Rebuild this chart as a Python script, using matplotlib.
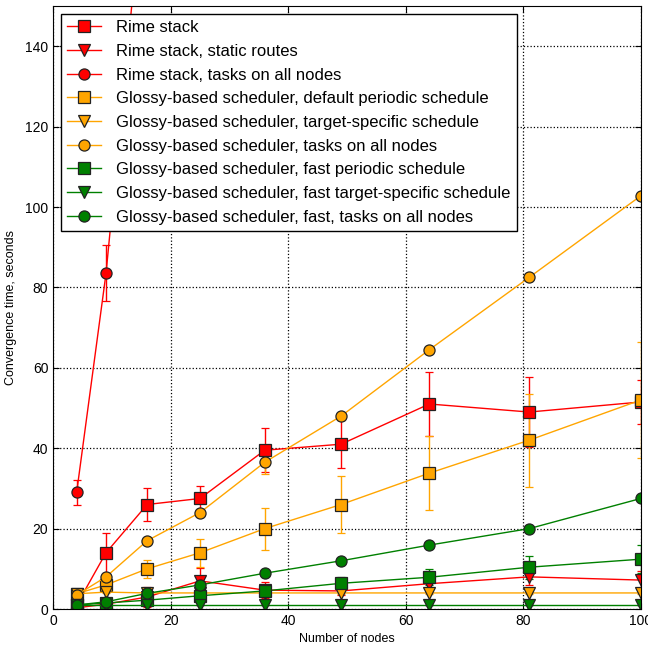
import matplotlib
matplotlib.use('Agg')
import matplotlib.pyplot as plt
import numpy as np

plt.rcParams['font.family'] = ['Liberation Sans', 'DejaVu Sans']

nodes = [4, 9, 16, 25, 36, 49, 64, 81, 100]

rime = [1.0, 14.0, 26.0, 27.5, 39.5, 41.0, 51.0, 49.0, 51.5]
rime_err = [0.5, 5.0, 4.0, 3.0, 5.5, 6.0, 8.0, 8.7, 5.5]
rime_static = [0.3, 1.2, 3.0, 7.0, 4.7, 4.5, 6.3, 8.0, 7.2]
rime_static_err = [0.2, 0.5, 2.5, 3.3, 2.0, 1.0, 1.5, 2.0, 2.2]
rime_all = [29.0, 83.5, 190.0, 300.0, 430.0, 600.0, 800.0, 1000.0, 1250.0]
rime_all_err = [3.0, 7.0, 10.0, 10.0, 10.0, 10.0, 10.0, 10.0, 10.0]

glossy = [3.8, 6.0, 10.0, 14.0, 20.0, 26.0, 33.8, 42.0, 52.0]
glossy_err = [0.5, 1.5, 2.2, 3.5, 5.2, 7.0, 9.2, 11.6, 14.5]
glossy_target = [3.8, 4.2, 4.0, 4.0, 4.0, 4.0, 4.0, 4.0, 4.0]
glossy_target_err = [0.2, 0.3, 0.3, 0.3, 0.3, 0.3, 0.3, 0.3, 0.3]
glossy_all = [3.5, 8.0, 17.0, 24.0, 36.5, 48.0, 64.5, 82.5, 102.8]
glossy_all_err = [0.3, 0.5, 0.5, 0.5, 3.0, 0.5, 0.5, 0.5, 0.5]

fast = [1.0, 1.5, 2.2, 3.3, 4.5, 6.4, 7.9, 10.4, 12.4]
fast_err = [0.3, 0.4, 0.5, 0.6, 0.8, 1.5, 2.0, 2.9, 3.5]
fast_target = [1.0, 1.0, 1.0, 1.0, 1.0, 1.0, 1.0, 1.0, 1.0]
fast_target_err = [0.1, 0.1, 0.1, 0.1, 0.1, 0.1, 0.1, 0.1, 0.1]
fast_all = [1.0, 1.8, 3.9, 6.0, 8.9, 12.0, 15.9, 20.0, 27.5]
fast_all_err = [0.2, 0.2, 0.2, 0.2, 0.2, 0.2, 0.2, 0.2, 0.2]

series = [
    ('Rime stack', rime, rime_err, 'red', 's'),
    ('Rime stack, static routes', rime_static, rime_static_err, 'red', 'v'),
    ('Rime stack, tasks on all nodes', rime_all, rime_all_err, 'red', 'o'),
    ('Glossy-based scheduler, default periodic schedule', glossy, glossy_err, 'orange', 's'),
    ('Glossy-based scheduler, target-specific schedule', glossy_target, glossy_target_err, 'orange', 'v'),
    ('Glossy-based scheduler, tasks on all nodes', glossy_all, glossy_all_err, 'orange', 'o'),
    ('Glossy-based scheduler, fast periodic schedule', fast, fast_err, 'green', 's'),
    ('Glossy-based scheduler, fast target-specific schedule', fast_target, fast_target_err, 'green', 'v'),
    ('Glossy-based scheduler, fast, tasks on all nodes', fast_all, fast_all_err, 'green', 'o'),
]

fig = plt.figure(figsize=(6.48, 6.47), dpi=100)
ax = fig.add_axes([0.082, 0.0587, 0.907, 0.932])

for label, vals, err, color, marker in series:
    ax.errorbar(nodes, vals, yerr=err, color=color, marker=marker, markersize=8,
                mec='#222222', mew=0.9, lw=1.0, elinewidth=1.0, capsize=3,
                label=label)

ax.set_xlim(0, 100)
ax.set_ylim(0, 150)
ax.set_xticks(np.arange(0, 101, 20))
ax.set_yticks(np.arange(0, 141, 20))
ax.tick_params(direction='in', top=True, right=True, labelsize=10, length=4)
ax.grid(True, color='black', linestyle=':', linewidth=0.9)
ax.set_xlabel('Number of nodes', fontsize=9)
ax.set_ylabel('Convergence time, seconds', fontsize=9, labelpad=6)

handles, labels = ax.get_legend_handles_labels()
handles = [h[0] for h in handles]
leg = ax.legend(handles, labels, loc='upper left', fontsize=12, numpoints=1,
                fancybox=False, framealpha=1, handlelength=2.0,
                handletextpad=0.9, labelspacing=0.52, borderaxespad=0.45)
leg.get_frame().set_edgecolor('black')

fig.savefig('out.png', dpi=100)
